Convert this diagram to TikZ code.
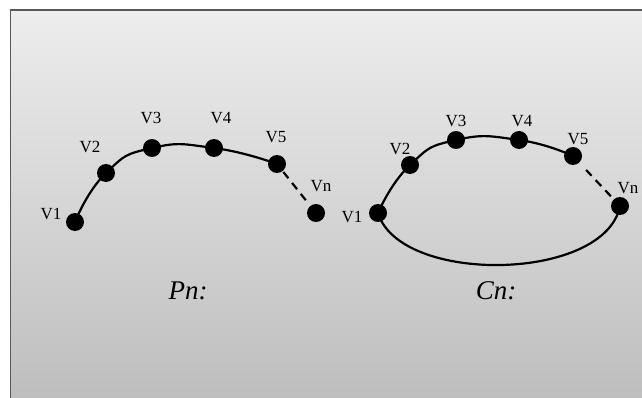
\documentclass[tikz,border=0pt]{standalone}
\usepackage{fontspec}
\setmainfont{Liberation Serif}
\usetikzlibrary{calc}
\tikzset{
  vtx/.style={circle,fill=black,inner sep=0pt,minimum size=18pt},
  vlbl/.style={inner sep=0pt,font=\fontsize{17}{17}\selectfont},
  glbl/.style={inner sep=0pt,font=\fontsize{27}{27}\selectfont\itshape},
  edge/.style={line width=2.2pt},
  gap/.style={line width=2.2pt,dash pattern=on 8pt off 6pt}
}

\begin{document}
\begin{tikzpicture}[x=1pt,y=-1pt]
\useasboundingbox (0,0) rectangle (642,398);
\fill[white] (0,0) rectangle (642,398);
\shade[top color=black!7,bottom color=black!26,draw=black!65,line width=1.6pt] (10.5,10) rectangle (650,410);
% path P_n
\node[vtx] (p1) at (75,222) {}; \node[vtx] (p2) at (106,173) {}; \node[vtx] (p3) at (152,148) {};
\node[vtx] (p4) at (214,148) {}; \node[vtx] (p5) at (277,164) {}; \node[vtx] (pn) at (316,213) {};
\draw[edge] plot[smooth,tension=0.9] coordinates {(p1) (p2) (p3) (p4) (p5)};
\draw[gap,shorten <=1pt,shorten >=7pt] (p5) -- (pn);
\node[vlbl] (lp1) at (51,214) {V1}; \node[vlbl] (lp2) at (90,147) {V2}; \node[vlbl] (lp3) at (151,118) {V3};
\node[vlbl] (lp4) at (221,118) {V4}; \node[vlbl] (lp5) at (276,137) {V5}; \node[vlbl] (lpn) at (321,186) {Vn};
\node[glbl] (pname) at (188,291) {Pn:};
% cycle C_n
\node[vtx] (c1) at (378,213) {}; \node[vtx] (c2) at (410,165) {}; \node[vtx] (c3) at (456,140) {};
\node[vtx] (c4) at (519,140) {}; \node[vtx] (c5) at (573,156) {}; \node[vtx] (cn) at (620,206) {};
\draw[edge] plot[smooth,tension=0.9] coordinates {(c1) (c2) (c3) (c4) (c5)};
\draw[edge] (c1.center) .. controls (400,285) and (605,282) .. (cn.center);
\draw[gap,shorten <=10pt,shorten >=1pt] (c5) -- (cn);
\node[vlbl] (lc1) at (352,217) {V1}; \node[vlbl] (lc2) at (400,149) {V2}; \node[vlbl] (lc3) at (456,121) {V3};
\node[vlbl] (lc4) at (522,121) {V4}; \node[vlbl] (lc5) at (578,139) {V5}; \node[vlbl] (lcn) at (628,188) {Vn};
\node[glbl] (cname) at (496,291) {Cn:};
\end{tikzpicture}
\end{document}
